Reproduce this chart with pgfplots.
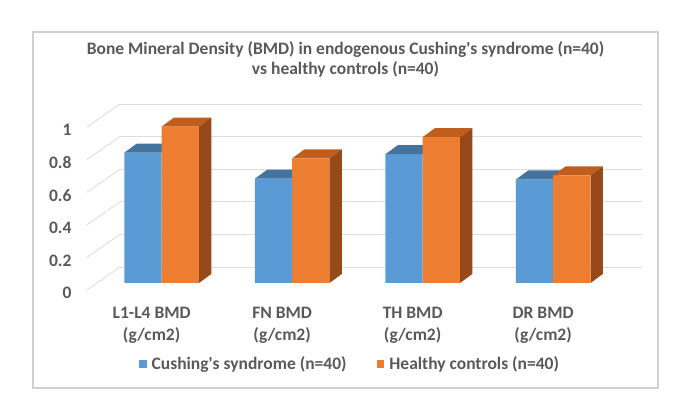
\documentclass[border=0pt]{standalone}
\usepackage{fontspec}
\setmainfont{Carlito}
\usepackage{pgfplots}
\usepackage{pgfplotstable}
\pgfplotsset{compat=1.18}
\definecolor{cblue}{HTML}{5B9BD5}
\definecolor{cbluetop}{HTML}{44739E}
\definecolor{corange}{HTML}{ED7D31}
\definecolor{corangetop}{HTML}{C05E1E}
\definecolor{corangeside}{HTML}{97491A}
\definecolor{txt}{HTML}{595959}
\definecolor{gridc}{HTML}{DDDDDD}
\definecolor{framec}{HTML}{D0D0D0}
\newcommand\cf{\fontsize{17.5}{22}\selectfont\bfseries}
\pgfplotstableread{
c b o
0 0.80 0.96
1 0.64 0.765
2 0.79 0.895
3 0.635 0.66
}\data
\begin{document}
\begin{tikzpicture}
\begin{axis}[name=ax, scale only axis, width=625pt, height=356pt,
 xmin=-0.9862, xmax=3.8031, ymin=-0.6442, ymax=1.5399,
 axis line style={draw=framec, line width=1.2pt},
 major tick length=0pt, tick style={draw=none},
 ytick={-0.062,0.138,0.338,0.538,0.738,0.938},
 yticklabels={0,0.2,0.4,0.6,0.8,1},
 yticklabel style={font=\cf, text=txt, xshift=42pt},
 xtick={-0.077,0.923,1.923,2.923},
 xticklabels={{L1-L4 BMD\\(g/cm2)},{FN BMD\\(g/cm2)},{TH BMD\\(g/cm2)},{DR BMD\\(g/cm2)}},
 xticklabel style={font=\cf, text=txt, align=center, anchor=center, yshift=63pt},
 title={Bone Mineral Density (BMD) in endogenous Cushing\textquotesingle s syndrome (n=40)\\vs healthy controls (n=40)},
 title style={at={(0.5,0.9073)}, anchor=center, align=center, font=\fontsize{17.5}{20}\selectfont\bfseries, text=txt},
 legend style={at={(0.507,0.0674)}, anchor=center, draw=none, fill=none, legend columns=2, font=\cf, text=txt,
   /tikz/every odd column/.append style={column sep=3pt},
   /tikz/every even column/.append style={column sep=28pt}},
 legend image code/.code={\fill[#1] (0pt,-3.9pt) rectangle (7.8pt,3.9pt);},
]
% back wall gridlines
\addplot[gridc, line width=0.9pt, forget plot] coordinates {(-0.3195,0.0982) (3.6812,0.0982)};
\addplot[gridc, line width=0.9pt, forget plot] coordinates {(-0.3195,0.2982) (3.6812,0.2982)};
\addplot[gridc, line width=0.9pt, forget plot] coordinates {(-0.3195,0.4982) (3.6812,0.4982)};
\addplot[gridc, line width=0.9pt, forget plot] coordinates {(-0.3195,0.6982) (3.6812,0.6982)};
\addplot[gridc, line width=0.9pt, forget plot] coordinates {(-0.3195,0.8982) (3.6812,0.8982)};
\addplot[gridc, line width=0.9pt, forget plot] coordinates {(-0.3195,1.0982) (3.6812,1.0982)};
% side wall gridlines
\addplot[gridc, line width=0.9pt, forget plot] coordinates {(-0.5724,-0.0429) (-0.3195,0.0982)};
\addplot[gridc, line width=0.9pt, forget plot] coordinates {(-0.5724,0.1571) (-0.3195,0.2982)};
\addplot[gridc, line width=0.9pt, forget plot] coordinates {(-0.5724,0.3571) (-0.3195,0.4982)};
\addplot[gridc, line width=0.9pt, forget plot] coordinates {(-0.5724,0.5571) (-0.3195,0.6982)};
\addplot[gridc, line width=0.9pt, forget plot] coordinates {(-0.5724,0.7571) (-0.3195,0.8982)};
\addplot[gridc, line width=0.9pt, forget plot] coordinates {(-0.5724,0.9571) (-0.3195,1.0982)};
% blue bars
\addplot[ybar, bar width=0.2858, bar shift=-0.1429, fill=cblue, draw=none] table[x=c, y=b]{\data};
\addplot[fill=cbluetop, draw=none, forget plot] coordinates {(-0.2858,0.80) (-0.1915,0.8552) (0.0943,0.8552) (0,0.80)};
\addplot[fill=cbluetop, draw=none, forget plot] coordinates {(0.7142,0.64) (0.8085,0.6952) (1.0943,0.6952) (1,0.64)};
\addplot[fill=cbluetop, draw=none, forget plot] coordinates {(1.7142,0.79) (1.8085,0.8452) (2.0943,0.8452) (2,0.79)};
\addplot[fill=cbluetop, draw=none, forget plot] coordinates {(2.7142,0.635) (2.8085,0.6902) (3.0943,0.6902) (3,0.635)};
% orange tops and sides
\addplot[fill=corangetop, draw=none, forget plot] coordinates {(0,0.96) (0.0943,1.0152) (0.3801,1.0152) (0.2858,0.96)};
\addplot[fill=corangeside, draw=none, forget plot] coordinates {(0.2858,0) (0.3801,0.0552) (0.3801,1.0152) (0.2858,0.96)};
\addplot[fill=corangetop, draw=none, forget plot] coordinates {(1,0.765) (1.0943,0.8202) (1.3801,0.8202) (1.2858,0.765)};
\addplot[fill=corangeside, draw=none, forget plot] coordinates {(1.2858,0) (1.3801,0.0552) (1.3801,0.8202) (1.2858,0.765)};
\addplot[fill=corangetop, draw=none, forget plot] coordinates {(2,0.895) (2.0943,0.9502) (2.3801,0.9502) (2.2858,0.895)};
\addplot[fill=corangeside, draw=none, forget plot] coordinates {(2.2858,0) (2.3801,0.0552) (2.3801,0.9502) (2.2858,0.895)};
\addplot[fill=corangetop, draw=none, forget plot] coordinates {(3,0.66) (3.0943,0.7152) (3.3801,0.7152) (3.2858,0.66)};
\addplot[fill=corangeside, draw=none, forget plot] coordinates {(3.2858,0) (3.3801,0.0552) (3.3801,0.7152) (3.2858,0.66)};
% orange fronts
\addplot[ybar, bar width=0.2858, bar shift=0.1429, fill=corange, draw=none] table[x=c, y=o]{\data};
\legend{Cushing\textquotesingle s syndrome (n=40), Healthy controls (n=40)}
\end{axis}
\path (ax.south west) ++(-33pt,-21pt) coordinate (bbl);
\path (ax.north east) ++(35pt,32pt) coordinate (btr);
\pgfresetboundingbox
\path (bbl) rectangle (btr);
\end{tikzpicture}
\end{document}
